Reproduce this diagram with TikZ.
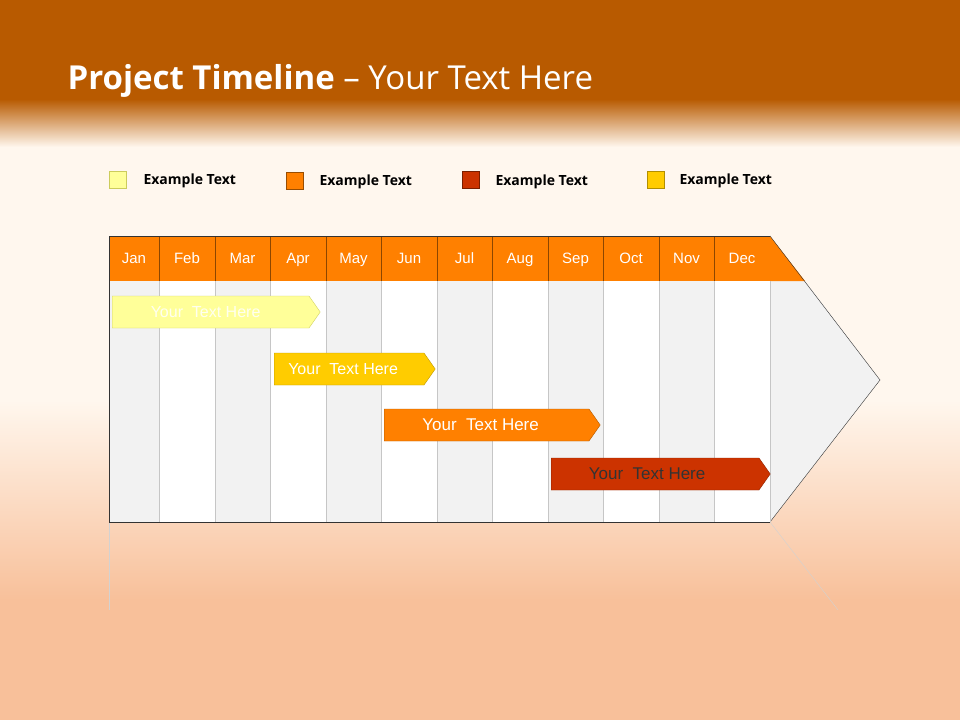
\documentclass[tikz,border=0pt]{standalone}
\usepackage{fontspec}
\setmainfont{Liberation Sans}
\newfontfamily\titlefont{Open Sans}
\usetikzlibrary{shapes.symbols}
\definecolor{bandc}{HTML}{B85A00}
\definecolor{cream}{HTML}{FFF7EE}
\definecolor{hdr}{HTML}{FF8000}
\definecolor{lgray}{HTML}{F2F2F2}
\definecolor{yel}{HTML}{FFFF99}
\definecolor{gold}{HTML}{FFCC00}
\definecolor{red}{HTML}{CC3300}
\definecolor{flame}{HTML}{F8C09A}
\tikzset{
  bar/.style={signal, signal to=east, signal pointer angle=110, anchor=west, minimum height=32pt, inner sep=0pt, font=\fontsize{16}{16}\selectfont, text=white},
  lg/.style={minimum width=17pt, minimum height=17pt, inner sep=0pt},
  lgt/.style={anchor=west, font=\bfseries\fontsize{14}{14}\selectfont\titlefont},
  mon/.style={text=white, font=\fontsize{15}{15}\selectfont, text height=11pt, text depth=3pt}
}
\begin{document}
\begin{tikzpicture}[x=1pt,y=-1pt]
\useasboundingbox (0,0) rectangle (960,720);
\fill[cream] (0,0) rectangle (960,720);
\shade[top color=cream, bottom color=flame] (0,400) rectangle (960,600);
\fill[flame] (0,599) rectangle (960,720);
\fill[bandc] (0,0) rectangle (960,100);
\shade[top color=bandc, bottom color=cream] (0,99) rectangle (960,147);
\node[anchor=west, text=white, font=\titlefont\fontsize{33}{33}\selectfont] (title) at (64,81) {\textbf{Project Timeline} – Your Text Here};
% legend
\node[lg, fill=yel, draw=yel!60!olive] (l1) at (118,180) {};
\node[lgt] (t1) at (140,181) {Example Text};
\node[lg, fill=hdr, draw=hdr!60!black] (l2) at (295,181) {};
\node[lgt] (t2) at (316,182) {Example Text};
\node[lg, fill=red, draw=red!60!black] (l3) at (471,180) {};
\node[lgt] (t3) at (492,182) {Example Text};
\node[lg, fill=gold, draw=gold!70!black] (l4) at (656,180) {};
\node[lgt] (t4) at (676,181) {Example Text};
% reflection
\draw[gray!35] (109,522) -- (109,610);
\draw[gray!35] (770,522) -- (838,610);
% arrow body
\fill[lgray] (770,281) -- (805,281) -- (880,380) -- (770,522) -- cycle;
\fill[hdr] (770,236) -- (805,281) -- (770,281) -- cycle;
\draw[black!80] (770,236) -- (880,380) -- (770,522);
\foreach \a/\b/\m [count=\i] in {109/159/Jan,159/215/Feb,215/270/Mar,270/326/Apr,326/381/May,381/437/Jun,437/492/Jul,492/548/Aug,548/603/Sep,603/659/Oct,659/714/Nov,714/770/Dec}{
  \pgfmathparse{mod(\i,2)==1 ? "lgray" : "white"}
  \fill[\pgfmathresult] (\a,281) rectangle (\b,522);
  \draw[gray!45] (\a,281) -- (\a,522);
  \fill[hdr] (\a,236) rectangle (\b,281);
  \draw[hdr!55!black] (\a,236) -- (\a,281);
  \node[mon] (m\i) at ({(\a+\b)/2},259) {\m};
}
\draw[gray!45] (770,281) -- (770,522);
\draw[black!80] (109,236) -- (770,236);
\draw[black!80] (109,236) -- (109,522) -- (770,522);
% bars
\node[bar, fill=yel, draw=yel!65!olive, minimum width=208pt, text=white!85!yel] (b1) at (112,312) {\hspace{-10pt}Your\ \ Text Here};
\node[bar, fill=gold, draw=gold!75!black, minimum width=161pt] (b2) at (274,369) {\hspace{-12pt}Your\ \ Text Here};
\node[bar, fill=hdr, draw=hdr!70!black, minimum width=216pt, font=\fontsize{17}{17}\selectfont] (b3) at (384,425) {\hspace{-12pt}Your\ \ Text Here};
\node[bar, fill=red, draw=red!70!black, minimum width=219pt, text=black!80, font=\fontsize{17}{17}\selectfont] (b4) at (551,474) {\hspace{-16pt}Your\ \ Text Here};
\end{tikzpicture}
\end{document}
